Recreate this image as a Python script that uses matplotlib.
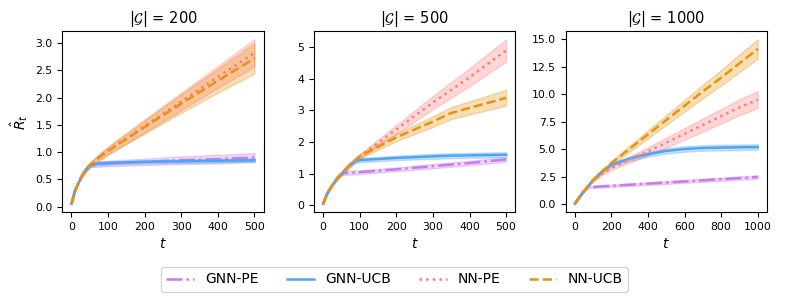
import numpy as np
import matplotlib
matplotlib.use('Agg')
import matplotlib.pyplot as plt

# ---- data ----
methods = ['GNN-PE', 'GNN-UCB', 'NN-PE', 'NN-UCB']
colors = ['#c77cec', '#4da6f5', '#ff7b7b', '#e8920e']
styles = ['-.', '-', ':', '--']
titles = [r'$|\mathcal{G}|$ = 200', r'$|\mathcal{G}|$ = 500', r'$|\mathcal{G}|$ = 1000']

# |G| = 200
t_200 = [0, 10, 20, 30, 40, 50, 75, 100, 200, 300, 400, 500]
mean_200 = {
    'GNN-PE':  [0.05, 0.30, 0.45, 0.58, 0.68, 0.76, 0.78, 0.79, 0.82, 0.85, 0.87, 0.90],
    'GNN-UCB': [0.05, 0.30, 0.45, 0.58, 0.68, 0.76, 0.79, 0.80, 0.82, 0.83, 0.84, 0.85],
    'NN-PE':   [0.05, 0.30, 0.45, 0.58, 0.68, 0.76, 0.90, 1.03, 1.48, 1.93, 2.38, 2.82],
    'NN-UCB':  [0.05, 0.30, 0.45, 0.58, 0.68, 0.76, 0.90, 1.02, 1.46, 1.89, 2.31, 2.72],
}
std_200 = {
    'GNN-PE':  [0.0, 0.01, 0.01, 0.02, 0.03, 0.04, 0.05, 0.05, 0.06, 0.07, 0.08, 0.08],
    'GNN-UCB': [0.0, 0.01, 0.01, 0.02, 0.02, 0.03, 0.03, 0.03, 0.03, 0.03, 0.03, 0.03],
    'NN-PE':   [0.0, 0.01, 0.01, 0.02, 0.03, 0.04, 0.06, 0.07, 0.12, 0.16, 0.20, 0.25],
    'NN-UCB':  [0.0, 0.01, 0.01, 0.02, 0.03, 0.04, 0.06, 0.07, 0.12, 0.17, 0.22, 0.28],
}

# |G| = 500
t_500 = [0, 10, 20, 30, 40, 50, 60, 70, 85, 100, 200, 300, 350, 400, 500]
mean_500 = {
    'GNN-PE':  [0.05, 0.35, 0.55, 0.72, 0.88, 1.00, 1.02, 1.03, 1.04, 1.05, 1.14, 1.24, 1.29, 1.34, 1.45],
    'GNN-UCB': [0.05, 0.35, 0.55, 0.72, 0.88, 1.00, 1.12, 1.25, 1.38, 1.43, 1.50, 1.55, 1.57, 1.58, 1.60],
    'NN-PE':   [0.05, 0.35, 0.55, 0.72, 0.88, 1.00, 1.12, 1.25, 1.40, 1.55, 2.40, 3.25, 3.65, 4.05, 4.90],
    'NN-UCB':  [0.05, 0.35, 0.55, 0.72, 0.88, 1.00, 1.12, 1.25, 1.40, 1.55, 2.15, 2.65, 2.92, 3.08, 3.40],
}
std_500 = {
    'GNN-PE':  [0.0, 0.01, 0.02, 0.03, 0.04, 0.05, 0.06, 0.06, 0.06, 0.06, 0.06, 0.07, 0.07, 0.07, 0.07],
    'GNN-UCB': [0.0, 0.01, 0.02, 0.03, 0.04, 0.05, 0.05, 0.06, 0.06, 0.07, 0.07, 0.08, 0.08, 0.08, 0.08],
    'NN-PE':   [0.0, 0.01, 0.02, 0.03, 0.04, 0.05, 0.05, 0.06, 0.06, 0.07, 0.14, 0.21, 0.25, 0.28, 0.35],
    'NN-UCB':  [0.0, 0.01, 0.02, 0.03, 0.04, 0.05, 0.05, 0.06, 0.06, 0.07, 0.12, 0.17, 0.19, 0.21, 0.25],
}

# |G| = 1000
t_1000 = [0, 25, 50, 75, 100, 150, 200, 300, 400, 500, 600, 700, 800, 900, 1000]
mean_1000 = {
    'GNN-PE':  [0.05, 0.65, 1.20, 1.56, 1.58, 1.63, 1.68, 1.78, 1.88, 1.98, 2.08, 2.18, 2.28, 2.38, 2.48],
    'GNN-UCB': [0.05, 0.65, 1.20, 1.70, 2.20, 3.00, 3.60, 4.15, 4.55, 4.85, 5.02, 5.12, 5.15, 5.18, 5.20],
    'NN-PE':   [0.05, 0.65, 1.20, 1.70, 2.15, 2.80, 3.30, 4.05, 4.80, 5.60, 6.40, 7.20, 8.00, 8.80, 9.50],
    'NN-UCB':  [0.05, 0.65, 1.20, 1.70, 2.20, 3.00, 3.75, 5.05, 6.35, 7.65, 8.95, 10.25, 11.50, 12.80, 14.10],
}
std_1000 = {
    'GNN-PE':  [0.0, 0.02, 0.04, 0.08, 0.10, 0.10, 0.10, 0.11, 0.12, 0.13, 0.13, 0.14, 0.15, 0.15, 0.16],
    'GNN-UCB': [0.0, 0.02, 0.04, 0.06, 0.08, 0.12, 0.15, 0.20, 0.22, 0.24, 0.25, 0.25, 0.25, 0.25, 0.25],
    'NN-PE':   [0.0, 0.02, 0.04, 0.06, 0.08, 0.12, 0.18, 0.28, 0.37, 0.45, 0.52, 0.60, 0.66, 0.72, 0.78],
    'NN-UCB':  [0.0, 0.02, 0.04, 0.06, 0.08, 0.12, 0.18, 0.28, 0.37, 0.45, 0.53, 0.62, 0.70, 0.80, 0.88],
}

panels = [(t_200, mean_200, std_200), (t_500, mean_500, std_500), (t_1000, mean_1000, std_1000)]
yticks = [np.arange(0, 3.01, 0.5), np.arange(0, 5.1, 1), np.arange(0, 15.01, 2.5)]

plt.rcParams['font.size'] = 7.8
fig, axes = plt.subplots(1, 3, figsize=(7.89, 3.02), dpi=100)
fig.subplots_adjust(left=0.079, right=0.972, top=0.897, bottom=0.298, wspace=0.25)

for i, ax in enumerate(axes):
    t, mean, std = panels[i]
    t = np.array(t)
    for m, c, ls in zip(methods, colors, styles):
        mu = np.array(mean[m])
        sd = np.array(std[m])
        ax.fill_between(t, mu - sd, mu + sd, color=c, alpha=0.3, linewidth=1.0)
        ax.plot(t, mu, color=c, linestyle=ls, linewidth=1.8, label=m)
    ax.set_title(titles[i], fontsize=10.5)
    ax.set_xlabel('$t$', fontsize=10)
    ax.set_yticks(yticks[i])

axes[0].set_xticks([0, 100, 200, 300, 400, 500])
axes[1].set_xticks([0, 100, 200, 300, 400, 500])
axes[2].set_xticks([0, 200, 400, 600, 800, 1000])
axes[0].set_ylabel(r'$\hat{R}_t$', fontsize=10)

handles, labels = axes[0].get_legend_handles_labels()
fig.legend(handles, labels, loc='lower center', ncol=4, fontsize=10,
           bbox_to_anchor=(0.5, 0.01))

fig.savefig('out.png', dpi=100)
